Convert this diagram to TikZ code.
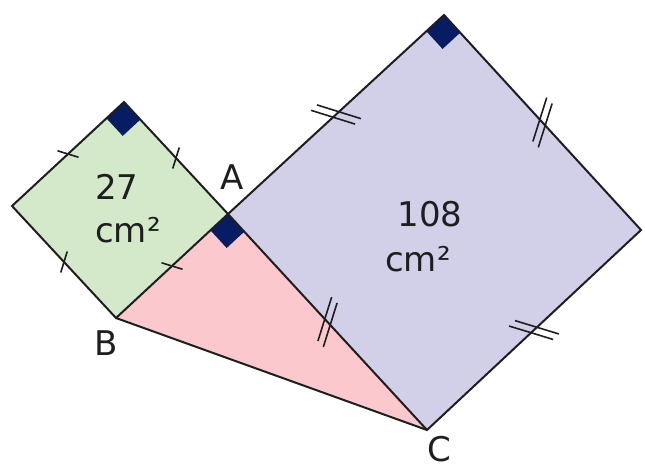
\documentclass[tikz,border=0pt]{standalone}
\usepackage{fontspec}
\setmainfont{DejaVu Sans}
\usetikzlibrary{calc}
\definecolor{sqgreen}{RGB}{212,233,201}
\definecolor{sqpurple}{RGB}{210,208,232}
\definecolor{tripink}{RGB}{250,200,205}
\definecolor{navy}{RGB}{8,28,100}
\definecolor{edgecol}{RGB}{30,30,30}
\newcommand\sgltick[3]{%
  \coordinate (#3) at ($(#1)!0.5!(#2)$);
  \draw[tickline] ($(#3)!11pt!120:(#2)$) -- ($(#3)!11pt!-60:(#2)$);}
\newcommand\dbltick[3]{%
  \coordinate (#3) at ($(#1)!0.5!(#2)$);
  \coordinate (#3a) at ($(#3)!4pt!(#2)$);
  \coordinate (#3b) at ($(#3)!-4pt!(#2)$);
  \draw[tickline] ($(#3a)!23pt!120:(#2)$) -- ($(#3a)!23pt!-60:(#2)$);
  \draw[tickline] ($(#3b)!23pt!120:(#2)$) -- ($(#3b)!23pt!-60:(#2)$);}
\newcommand\rtmark[4]{%
  \coordinate (#4u) at ($(#1)!24pt!(#2)$);
  \coordinate (#4v) at ($(#1)!24pt!(#3)$);
  \fill[navy] (#1) -- (#4u) -- ($(#4u)+(#4v)-(#1)$) -- (#4v) -- cycle;}
\begin{document}
\begin{tikzpicture}[x=1pt,y=-1pt,
  edge/.style={draw=edgecol,line width=2pt,line join=miter},
  tickline/.style={draw=edgecol,line width=1.6pt},
  lbl/.style={font=\fontsize{34}{40}\selectfont,text=edgecol,inner sep=0pt,anchor=base}]
\useasboundingbox (0,0) rectangle (645,470);
\coordinate (A) at (228,214);
\coordinate (B) at (116,318);
\coordinate (C) at (427,430);
\coordinate (G1) at (124,102);
\coordinate (G2) at (12,206);
\coordinate (P1) at (444,15);
\coordinate (P2) at (641,230);
% fills
\fill[sqgreen] (A) -- (B) -- (G2) -- (G1) -- cycle;
\fill[sqpurple] (A) -- (P1) -- (P2) -- (C) -- cycle;
\fill[tripink] (A) -- (B) -- (C) -- cycle;
% right-angle marks
\rtmark{G1}{A}{G2}{mg}
\rtmark{P1}{A}{P2}{mp}
\rtmark{A}{B}{C}{ma}
% outlines
\draw[edge] (A) -- (G1) -- (G2) -- (B) -- cycle;
\draw[edge] (A) -- (P1) -- (P2) -- (C) -- cycle;
\draw[edge] (B) -- (C);
% ticks
\sgltick{G2}{G1}{t1}
\sgltick{G1}{A}{t2}
\sgltick{A}{B}{t3}
\sgltick{B}{G2}{t4}
\dbltick{A}{P1}{d1}
\dbltick{P1}{P2}{d2}
\dbltick{P2}{C}{d3}
\dbltick{C}{A}{d4}
% labels
\node[lbl] (area1) at (117,200) {27};
\node[lbl] (unit1) at (128,243) {cm²};
\node[lbl] (area2) at (430,227) {108};
\node[lbl] (unit2) at (418,272) {cm²};
\node[lbl] (labA) at (232,190) {A};
\node[lbl] (labB) at (106,355) {B};
\node[lbl] (labC) at (439,461) {C};
\end{tikzpicture}
\end{document}
